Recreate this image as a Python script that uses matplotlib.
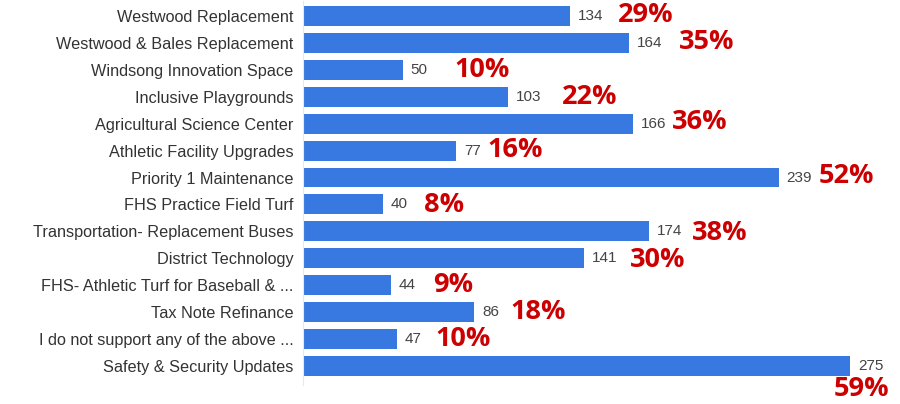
import matplotlib
matplotlib.use("Agg")
from matplotlib import pyplot as plt

# survey answers, top to bottom
labels = ['Westwood Replacement', 'Westwood & Bales Replacement', 'Windsong Innovation Space',
          'Inclusive Playgrounds', 'Agricultural Science Center', 'Athletic Facility Upgrades',
          'Priority 1 Maintenance', 'FHS Practice Field Turf', 'Transportation- Replacement Buses',
          'District Technology', 'FHS- Athletic Turf for Baseball & ...', 'Tax Note Refinance',
          'I do not support any of the above ...', 'Safety & Security Updates']
counts = [134, 164, 50, 103, 166, 77, 239, 40, 174, 141, 44, 86, 47, 275]
pcts = ['29%', '35%', '10%', '22%', '36%', '16%', '52%', '8%', '38%', '30%', '9%', '18%', '10%', '59%']

# where the red percentages were pasted on (pixels from bar end)
pct_dx = [48, 50, 52, 54, 39, 31, 40, 41, 43, 46, 43, 36, 39, -17]
pct_dy = [1, 1, 0, 0, 2, 1, 2, -1, -2, -2, 0, 0, 0, -23]

plt.rcParams['font.family'] = ['Liberation Sans', 'DejaVu Sans']

fig = plt.figure(figsize=(9, 4.04), dpi=100)
ax = fig.add_axes([0.3367, 0.0475, 0.6633, 0.9495])

ys = list(range(len(labels)))
ax.barh(ys, counts, height=0.74, color='#3778e1')
ax.set_xlim(0, 300)
ax.set_ylim(13.7, -0.55)

ax.set_yticks(ys)
ax.set_yticklabels(labels, fontsize=11.7, color='#333333')
ax.tick_params(axis='y', length=0, pad=7)
ax.set_xticks([])
for s in ['top', 'right', 'bottom']:
    ax.spines[s].set_visible(False)
ax.spines['left'].set_color('#e8e8e8')

for y, c, p, dx, dy in zip(ys, counts, pcts, pct_dx, pct_dy):
    ax.annotate(str(c), xy=(c, y), xytext=(8, 0), textcoords='offset pixels',
                ha='left', va='center', fontsize=11, color='#444444')
    ax.annotate(p, xy=(c, y), xytext=(dx, dy), textcoords='offset pixels',
                ha='left', va='center', fontsize=19.5, fontweight='bold',
                color='#cc0000', family=['Open Sans', 'DejaVu Sans'],
                annotation_clip=False)

plt.savefig('out.png', dpi=100)
